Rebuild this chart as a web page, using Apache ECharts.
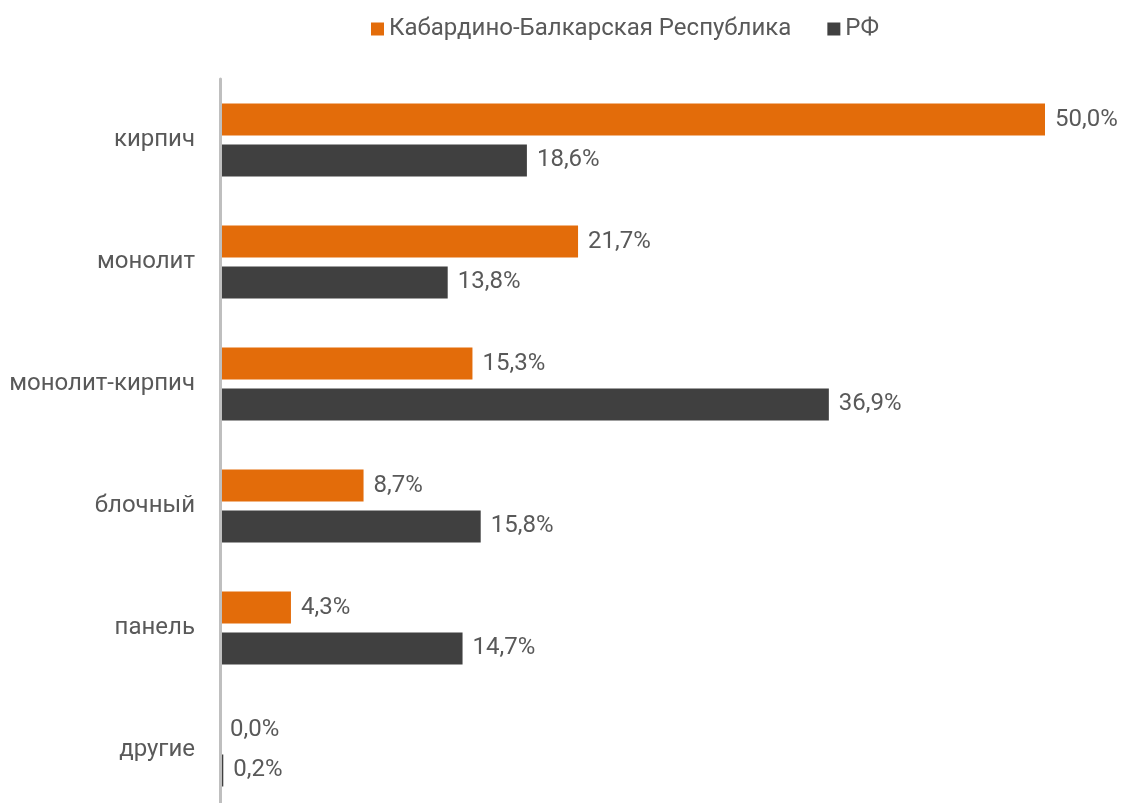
<!DOCTYPE html>
<html>
<head>
<meta charset="utf-8">
<script src="https://cdn.jsdelivr.net/npm/echarts@6/dist/echarts.min.js"></script>
<style>
  html, body { margin: 0; padding: 0; background: #ffffff; overflow: hidden; }
  /* ось уходит за нижний край картинки, поэтому контейнер выше окна */
  #chart { width: 1122px; height: 820px; }
</style>
</head>
<body>
<div id="chart"></div>
<script>
  // типы стен
  var categories = ['кирпич', 'монолит', 'монолит-кирпич', 'блочный', 'панель', 'другие'];
  var seriesNames = ['Кабардино-Балкарская Республика', 'РФ'];
  var kbrValues = [50.0, 21.7, 15.3, 8.7, 4.3, 0.0];
  var rfValues = [18.6, 13.8, 36.9, 15.8, 14.7, 0.2];

  var chart = echarts.init(document.getElementById('chart'));

  function fmt(p) {
    return p.value.toFixed(1).replace('.', ',') + '%';
  }

  var labelStyle = {
    show: true,
    position: 'right',
    distance: 10,
    formatter: fmt,
    color: '#595959',
    fontFamily: 'Roboto',
    fontSize: 24
  };

  chart.setOption({
    animation: false,
    textStyle: { fontFamily: 'Roboto' },
    legend: {
      top: 12,
      left: 366,
      icon: 'rect',
      itemWidth: 13,
      itemHeight: 13,
      itemGap: 36,
      textStyle: { color: '#595959', fontSize: 24, fontFamily: 'Roboto' },
      data: seriesNames
    },
    grid: {
      left: 220,
      top: 79,
      width: 825,
      height: 732
    },
    xAxis: {
      type: 'value',
      min: 0,
      max: 50,
      show: false
    },
    yAxis: {
      type: 'category',
      inverse: true,
      z: 5,
      data: categories,
      axisLine: { lineStyle: { color: '#bfbfbf', width: 3 } },
      axisTick: { show: false },
      axisLabel: { color: '#595959', fontSize: 24, fontFamily: 'Roboto', margin: 25 }
    },
    series: [
      {
        name: seriesNames[0],
        type: 'bar',
        data: kbrValues,
        barWidth: 32,
        barGap: '28%',
        itemStyle: { color: '#e36c0a' },
        label: labelStyle
      },
      {
        name: seriesNames[1],
        type: 'bar',
        data: rfValues,
        barWidth: 32,
        itemStyle: { color: '#404040' },
        label: labelStyle
      }
    ]
  });
</script>
</body>
</html>
